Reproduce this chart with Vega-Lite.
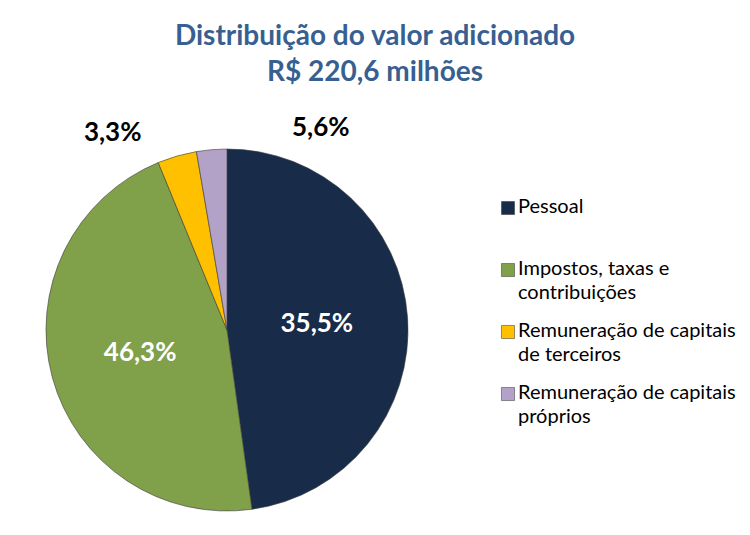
{
  "$schema": "https://vega.github.io/schema/vega-lite/v6.json",
  "width": 362,
  "height": 362,
  "autosize": {"type": "none"},
  "padding": {"left": 46, "top": 149, "right": 342, "bottom": 24},
  "background": "white",
  "view": {"stroke": null},
  "title": {
    "text": ["Distribuição do valor adicionado", "R$ 220,6 milhões"],
    "font": "Lato",
    "fontSize": 28,
    "fontWeight": "bold",
    "color": "#375F92",
    "anchor": "middle",
    "dx": 148,
    "offset": 26,
    "lineHeight": 36
  },
  "data": {
    "values": [
      {"categoria": "Pessoal", "ordem": 1, "participacao": 47.8, "rotulo": "35,5%"},
      {"categoria": "Impostos, taxas e contribuições", "ordem": 2, "participacao": 46.0, "rotulo": "46,3%"},
      {"categoria": "Remuneração de capitais de terceiros", "ordem": 3, "participacao": 3.5, "rotulo": "3,3%"},
      {"categoria": "Remuneração de capitais próprios", "ordem": 4, "participacao": 2.7, "rotulo": "5,6%"}
    ]
  },
  "encoding": {
    "theta": {"field": "participacao", "type": "quantitative", "stack": true},
    "order": {"field": "ordem", "type": "quantitative"}
  },
  "layer": [
    {
      "mark": {"type": "arc", "stroke": "#3a3a3a", "strokeWidth": 0.6},
      "encoding": {
        "color": {
          "field": "categoria",
          "type": "nominal",
          "sort": ["Pessoal", "Impostos, taxas e contribuições", "Remuneração de capitais de terceiros", "Remuneração de capitais próprios"],
          "scale": {
            "domain": ["Pessoal", "Impostos, taxas e contribuições", "Remuneração de capitais de terceiros", "Remuneração de capitais próprios"],
            "range": ["#182C4A", "#80A04A", "#FFC000", "#B3A2C7"]
          },
          "legend": {
            "orient": "none",
            "legendX": 452,
            "legendY": 49,
            "title": null,
            "labelFont": "Lato",
            "labelFontSize": 20,
            "labelColor": "#000000",
            "labelLimit": 300,
            "labelOffset": 0,
            "labelBaseline": "top",
            "symbolType": "square",
            "symbolSize": 170,
            "symbolStrokeColor": "#333333",
            "symbolStrokeWidth": 0.5,
            "gridAlign": "all",
            "rowPadding": 18,
            "labelExpr": "datum.label == 'Impostos, taxas e contribuições' ? ['Impostos, taxas e', 'contribuições'] : (datum.label == 'Pessoal' ? 'Pessoal' : ['Remuneração de capitais', substring(datum.label, 24)])",
            "encode": {
              "labels": {"update": {"dy": {"value": -11}, "lineHeight": {"value": 23.5}}}
            }
          }
        }
      }
    },
    {
      "mark": {"type": "text", "radius": 90, "font": "Lato", "fontSize": 26, "fontWeight": "bold", "color": "white"},
      "encoding": {
        "text": {"condition": {"test": "datum.ordem <= 2", "field": "rotulo"}, "value": ""}
      }
    },
    {
      "mark": {"type": "text", "radius": 215, "dx": -55, "dy": 10, "font": "Lato", "fontSize": 26, "fontWeight": "bold", "color": "black"},
      "encoding": {
        "text": {"condition": {"test": "datum.ordem == 3", "field": "rotulo"}, "value": ""}
      }
    },
    {
      "mark": {"type": "text", "radius": 215, "dx": 112, "dy": 12, "font": "Lato", "fontSize": 26, "fontWeight": "bold", "color": "black"},
      "encoding": {
        "text": {"condition": {"test": "datum.ordem == 4", "field": "rotulo"}, "value": ""}
      }
    }
  ]
}
